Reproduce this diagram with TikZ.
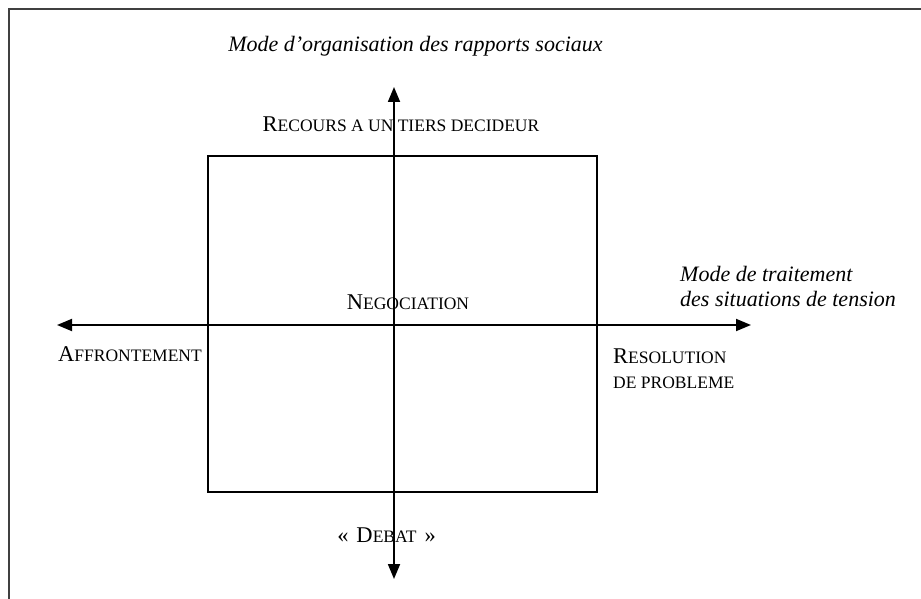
\documentclass[tikz,border=0pt]{standalone}
\usepackage{fontspec}
\setmainfont{Liberation Serif}
\usetikzlibrary{arrows.meta}
% fake small capitals: the rest of a word in smaller upper case
\newcommand\smc[1]{{\fontsize{17.5}{19}\selectfont #1}}
\tikzset{
  axis/.style={line width=1.8pt, {Triangle[length=15pt,width=12pt]}-{Triangle[length=15pt,width=12pt]}},
  frameline/.style={line width=1.6pt, draw=black!75},
  caplabel/.style={inner sep=0pt, font=\fontsize{22.5}{25}\selectfont},
  itlabel/.style={inner sep=0pt, font=\fontsize{22}{25}\selectfont\itshape}
}
\begin{document}
\begin{tikzpicture}[x=1pt,y=-1pt]
  \useasboundingbox (0,0) rectangle (921,599);
  % open frame along the top and the left
  \coordinate (ftl) at (9,9);
  \coordinate (ftr) at (921,9);
  \coordinate (fbl) at (9,599);
  \draw[frameline] (ftr) -- (ftl) -- (fbl);
  % the square
  \node[draw, line width=1.3pt, minimum width=389pt, minimum height=336pt, inner sep=0pt]
    (sq) at (402.5,324) {};
  % the two axes
  \coordinate (left) at (57,325);
  \coordinate (right) at (751,325);
  \coordinate (top) at (394,87);
  \coordinate (bottom) at (394,579);
  \draw[axis] (left) -- (right);
  \draw[axis] (bottom) -- (top);
  % labels
  \node[itlabel] (vtitle) at (415.5,46) {Mode d'organisation des rapports sociaux};
  \node[caplabel] (recours) at (401,124) {R\smc{ECOURS A UN TIERS DECIDEUR}};
  \node[caplabel] (nego) at (408,302) {N\smc{EGOCIATION}};
  \node[caplabel, anchor=west] (affr) at (58,354) {A\smc{FFRONTEMENT}};
  \node[itlabel, anchor=west, align=left] (htitle) at (680,286) {Mode de traitement\\des situations de tension};
  \node[caplabel, anchor=west, align=left] (resol) at (613,368.5) {R\smc{ESOLUTION}\\\smc{DE PROBLEME}};
  \node[caplabel] (debat) at (386.5,535) {«\hspace{8pt}D\smc{EBAT}\hspace{8pt}»};
\end{tikzpicture}
\end{document}
